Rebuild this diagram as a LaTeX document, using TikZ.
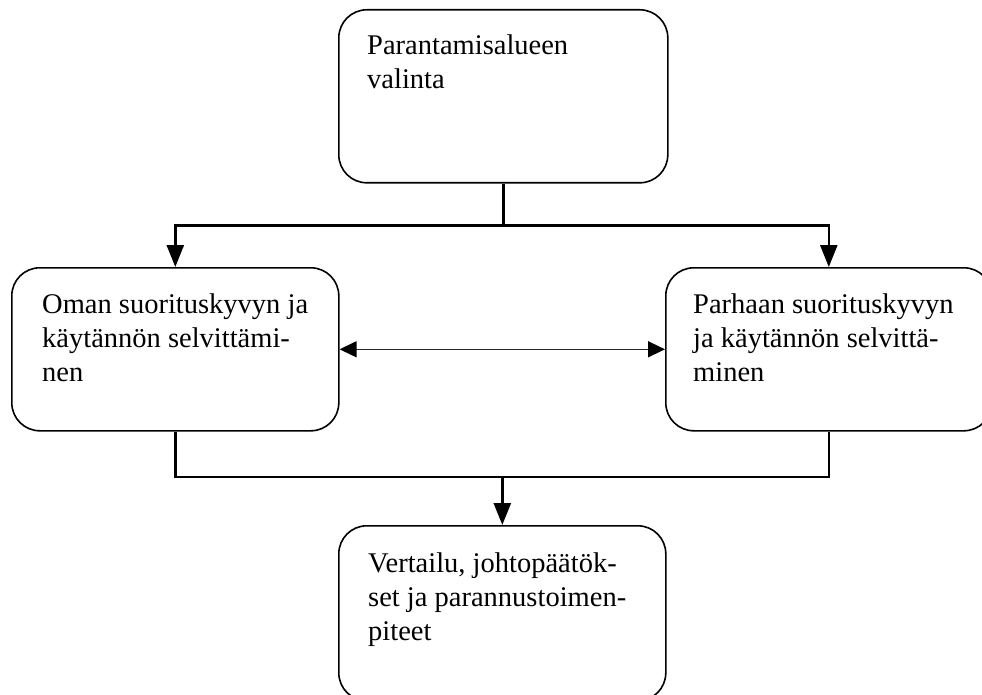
\documentclass[tikz,border=0pt]{standalone}
\usepackage{fontspec}
\setmainfont{Liberation Serif}
\usetikzlibrary{arrows.meta}
\begin{document}
\begin{tikzpicture}[x=1pt,y=-1pt,
  box/.style={draw=black, line width=1.6pt, rounded corners=28pt, inner sep=0pt, anchor=north west},
  lbl/.style={anchor=base west, align=left, inner sep=0pt, font=\fontsize{28.5pt}{34pt}\selectfont},
  link/.style={line width=2.6pt},
  conn/.style={line width=2.6pt, -{Triangle[length=22pt,width=17pt]}},
  dbl/.style={line width=1.5pt, draw=black!85, {Triangle[length=17pt,width=16pt,color=black]}-{Triangle[length=17pt,width=16pt,color=black]}}
]
\useasboundingbox (0,0) rectangle (982,695);
\clip (0,0) rectangle (982,695);
\node[box, minimum width=329pt, minimum height=173pt] (top) at (338,9) {};
\node[box, minimum width=327pt, minimum height=163pt] (left) at (11,267) {};
\node[box, minimum width=326pt, minimum height=163pt] (right) at (665,267) {};
\node[box, minimum width=327pt, minimum height=175pt] (bot) at (338,525) {};
\node[lbl] (toptext) at (367,89) {Parantamisalueen\\valinta};
\node[lbl] (lefttext) at (42,381) {Oman suorituskyvyn ja\\käytännön selvittämi-\\nen};
\node[lbl] (righttext) at (693,381) {Parhaan suorituskyvyn\\ja käytännön selvittä-\\minen};
\node[lbl] (bottext) at (368,640) {Vertailu, johtopäätök-\\set ja parannustoimen-\\piteet};
\path (top.south) ++(0,42) coordinate (tj);
\path (bot.north) ++(0,-48) coordinate (bj);
\draw[link] (top.south) -- (tj);
\draw[conn] (tj) -| (left.north);
\draw[conn] (tj) -| (right.north);
\draw[link] (left.south) -- (left.south |- bj) -- (right.south |- bj) -- (right.south);
\draw[conn] (bj) -- (bot.north);
\draw[dbl] (left.east) -- (right.west);
\end{tikzpicture}
\end{document}
